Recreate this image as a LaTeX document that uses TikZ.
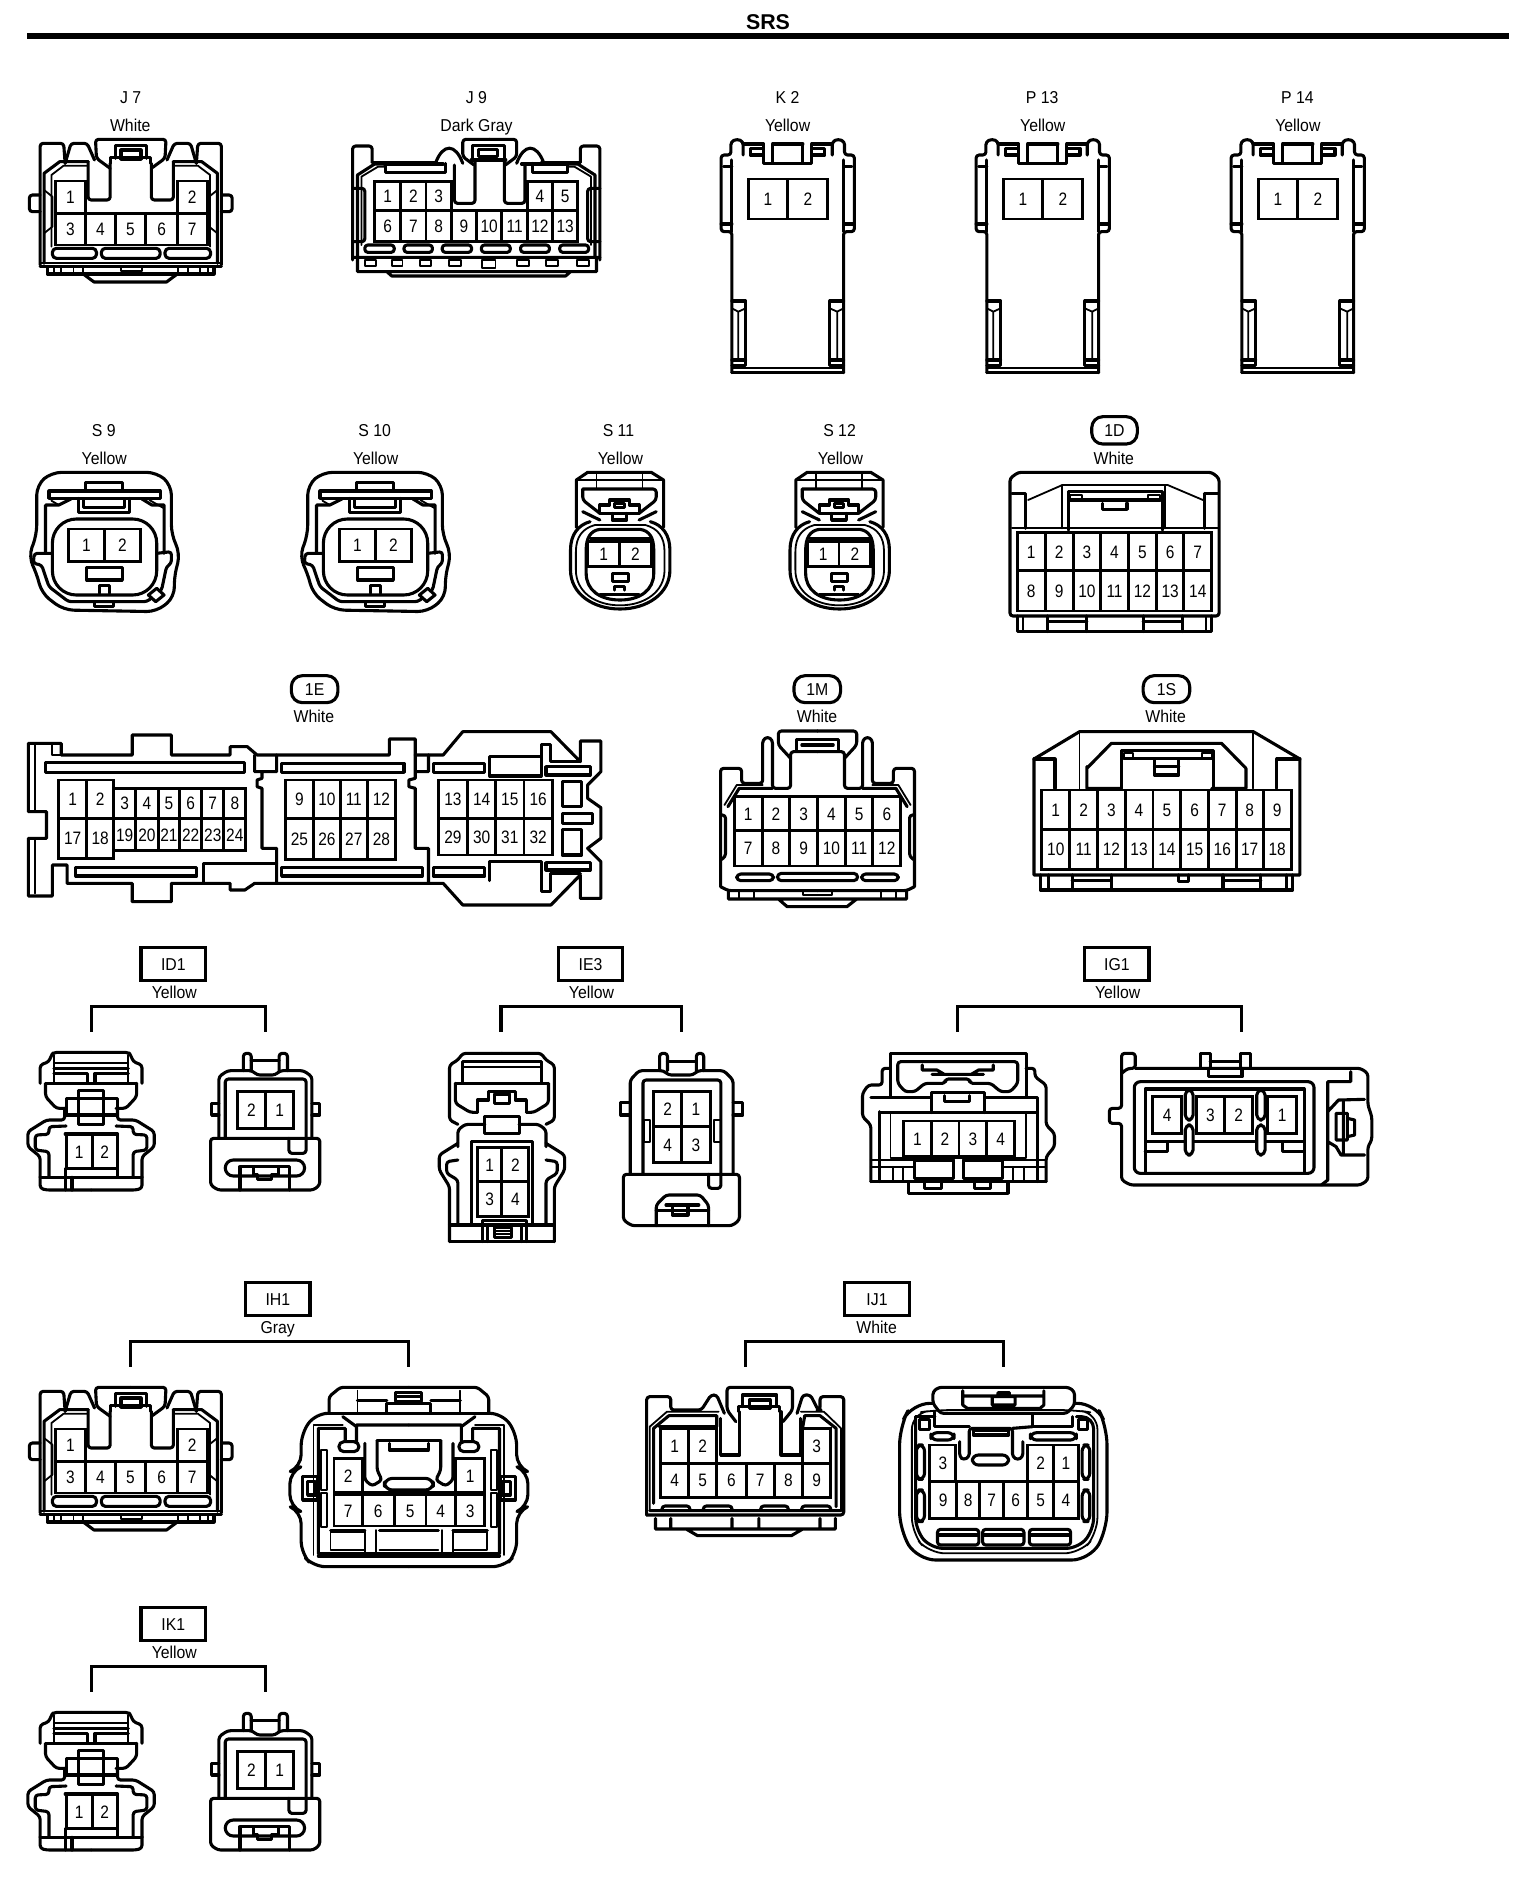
\documentclass[tikz,border=0pt]{standalone}
\usepackage{fontspec}
\setmainfont{Liberation Sans}
\newfontfamily\numf[FakeStretch=0.86]{Liberation Sans}
\newfontfamily\labf[FakeStretch=0.92]{Liberation Sans}
\newcounter{nn}
\tikzset{
 hv/.style={line width=1.55pt,line join=round,line cap=round},
 tn/.style={line width=0.9pt,line join=round,line cap=round},
 rc/.style={rounded corners=1.5pt},
 gridl/.style={line width=1.45pt,line join=miter},
 num/.style={inner sep=0pt,text height=6.5pt,text depth=0pt,font=\numf\fontsize{9}{10}\selectfont},
 lab/.style={inner sep=0pt,text height=6.2pt,text depth=0pt,font=\labf\fontsize{8.6}{10}\selectfont},
 ca/.style 2 args={shift={(#1,#2)},xscale=0.4897,yscale=0.33333},
 cb/.style 2 args={shift={(#1,#2)},xscale=0.38265,yscale=0.33333},
}
\newcommand{\pr}[3]{\foreach \pinA/\pinB/\pinT in {#3}{\stepcounter{nn}\draw[gridl] (\pinA,#1) rectangle (\pinB,#2);\node[num] (p\arabic{nn}) at ({(\pinA+\pinB)/2},{(#1+#2)/2}) {\pinT};}}
\newcommand{\lb}[3]{\stepcounter{nn}\node[lab] (t\arabic{nn}) at (#1,#2) {#3};}
\newcommand{\rr}[4]{\draw[hv,rounded corners=2pt] (#1,#2) rectangle (#3,#4);}
\newcommand{\both}[2]{#2\begin{scope}[shift={(#1,0)},xscale=-1]#2\end{scope}}
\newcommand{\pill}[5]{\stepcounter{nn}\draw[hv,rounded corners=5.5pt] (#1,#2) rectangle (#3,#4);\node[lab] (t\arabic{nn}) at ({(#1+#3)/2},{(#2+#4)/2}) {#5};}
\newcommand{\bx}[5]{\stepcounter{nn}\draw[hv,line join=miter] (#1,#2) rectangle (#3,#4);\node[lab] (t\arabic{nn}) at ({(#1+#3)/2},{(#2+#4)/2}) {#5};}
\newcommand{\brk}[4]{\stepcounter{nn}\coordinate (bl\arabic{nn}) at (#1,#3);\coordinate (br\arabic{nn}) at (#2,#3);\draw[hv,line cap=butt,line join=miter] (bl\arabic{nn}) -- ++(0,{#4-#3}) -| (br\arabic{nn});}
% ---------------- connectors
\newcommand{\Jseven}{%
\both{534}{\draw[hv,rc] (82,795)--(82,430)--(130,430)--(133,490);
\draw[hv,rc] (133,490)--(145,430)--(178,430)--(193,480);
\draw[hv,rc] (225,505)--(197,475)--(195,418)--(267,418);
\draw[hv,rc] (180,485)--(180,600)--(225,600)--(225,490);
\draw[hv] (90,790)--(90,520)--(122,485)--(180,485);
\draw[tn] (105,740)--(105,525)--(130,497)--(178,497);
\draw[hv,rc] (82,585)--(60,585)--(60,635)--(82,635);
\draw[tn] (90,570)--(107,590)--(107,680)--(90,700);
\draw[tn] (110,800)--(110,822) (125,800)--(125,822) (150,800)--(150,822) (170,800)--(170,822);}
\draw[hv] (235,475)--(235,437)--(300,437)--(300,475) (225,490)--(225,472)--(308,472)--(308,490);
\draw[hv] (247,450) rectangle (288,478);
\pr{543}{640}{113/175/1,362/423/2}
\pr{640}{735}{113/175/3,175/235/4,235/298/5,298/362/6,362/423/7}
\rr{107}{745}{197}{775}\rr{207}{745}{327}{775}\rr{337}{745}{430}{775}
\draw[tn] (82,788)--(452,788);
\draw[hv] (82,800)--(452,800) (97,800)--(97,822)--(437,822)--(437,800);
\draw[hv] (170,822)--(192,846)--(340,846)--(362,822);
\draw[tn] (247,800) rectangle (290,812);
}
\newcommand{\Jnine}{%
\both{1945}{\draw[hv,rc] (720,780)--(720,438)--(760,438)--(760,487);
\draw[hv,rc] (720,565)--(745,565)--(745,725)--(720,725);
\draw[hv] (730,770)--(730,525)--(765,492)--(785,492);
\draw[tn] (738,735)--(738,530)--(772,500)--(785,500);}
\draw[hv] (760,487)--(890,487) (1185,487)--(1105,487) (785,492)--(905,492) (1160,492)--(1065,492);
\both{2000}{\draw[hv] (890,487) .. controls (905,430) and (930,430) .. (945,490);
\draw[hv,rc] (968,495)--(945,470)--(945,418)--(1000,418);
\draw[hv,rc] (928,495)--(928,610)--(970,610)--(970,480);}
\draw[hv] (965,480)--(965,437)--(1030,437)--(1030,480) (978,448) rectangle (1015,470) (962,480)--(1033,480);
\draw[hv] (788,490)--(788,517)--(910,517)--(910,490) (1088,490)--(1088,517)--(1158,517)--(1158,490);
\pr{545}{632}{765/818/1,818/870/2,870/922/3,1077/1128/4,1128/1180/5}
\pr{632}{725}{765/818/6,818/870/7,870/922/8,922/973/9,973/1025/10,1025/1077/11,1077/1128/12,1128/1180/13}
\foreach \sa/\sb in {745/805,825/883,903/963,983/1042,1063/1122,1143/1202}{\draw[hv,rounded corners=1.5pt] (\sa,735) rectangle (\sb,757);}
\draw[hv] (720,772)--(1225,772) (730,775)--(730,815)--(1218,815)--(1218,775) (790,815)--(800,828)--(1155,828)--(1165,815);
\foreach \sa/\sb in {745/767,800/822,857/880,917/942,1055/1080,1115/1140,1178/1203}{\draw[tn] (\sa,780) rectangle (\sb,797);}
\draw[tn] (985,780) rectangle (1012,803);
}
\newcommand{\Phalf}{%
\draw[hv,rc] (447,1118)--(447,695)--(425,695)--(425,465)--(445,465)--(445,425)--(458,417)--(470,425)--(470,465);
\draw[hv] (470,432)--(512,432)--(512,490)--(561,490) (530,432)--(530,490) (530,432)--(561,432);
\draw[hv] (485,445) rectangle (512,465);
\draw[hv] (447,480)--(447,695) (430,500)--(447,500) (425,672)--(447,672);
\draw[hv] (447,903)--(475,903)--(475,1097)--(447,1097) (447,1080)--(475,1080);
\draw[tn] (460,935)--(460,1080) (447,925)--(460,935)--(475,925);
\draw[hv] (447,1118)--(561,1118);
\draw[tn] (447,1105)--(561,1105);
}
\newcommand{\Pconn}{%
\both{1122}{\Phalf}
\pr{537}{657}{480/561/1,561/643/2}
}
\newcommand{\Snine}{%
\draw[hv,rounded corners=5pt] (75,375)--(75,225)--(105,187)--(320,187)--(350,225)--(350,375)--(368,430)--(355,505)--(357,560)--(320,605)--(130,600)--(85,550)--(75,490)--(58,440)--cycle;
\draw[hv] (175,243)--(175,218)--(250,218)--(250,243) (100,243) rectangle (327,265);
\draw[hv] (160,265)--(160,307)--(265,307)--(265,265);
\draw[hv] (170,268)--(170,293)--(255,293)--(255,268);
\draw[hv] (93,430)--(93,285)--(120,285)--(145,267) (335,430)--(335,285)--(310,285)--(290,267);
\draw[tn] (105,272)--(120,285) (305,270)--(335,295);
\draw[hv,rc] (105,430)--(70,430)--(68,460)--(85,465)--(100,530)--(140,575)--(300,575)--(330,540)--(340,470)--(350,460)--(350,425)--(320,430);
\draw[hv,rounded corners=12pt] (107,327) rectangle (320,555);
\pr{357}{455}{140/213/1,213/287/2}
\draw[hv] (177,473) rectangle (250,510);
\draw[hv] (203,550)--(203,527)--(223,527)--(223,550) (193,575)--(193,590)--(232,590)--(232,575);
\draw[hv,fill=white] (320,535)--(335,555)--(318,575)--(303,555)--cycle;
}
\newcommand{\Seleven}{%
\draw[hv] (1205,335) .. controls (1180,345) and (1165,375) .. (1165,420) -- (1165,480) .. controls (1165,550) and (1210,597) .. (1266,597) .. controls (1322,597) and (1368,550) .. (1368,480) -- (1368,420) .. controls (1368,375) and (1353,345) .. (1328,335);
\draw[tn] (1215,345) .. controls (1190,355) and (1176,380) .. (1176,425) -- (1176,480) .. controls (1176,545) and (1215,586) .. (1266,586) .. controls (1317,586) and (1357,545) .. (1357,480) -- (1357,425) .. controls (1357,380) and (1343,355) .. (1318,345) -- cycle;
\draw[hv] (1225,358) .. controls (1205,362) and (1197,385) .. (1197,420) -- (1197,490) .. controls (1197,540) and (1225,570) .. (1266,570) .. controls (1307,570) and (1335,540) .. (1335,490) -- (1335,420) .. controls (1335,385) and (1327,362) .. (1307,358) -- cycle;
\draw[hv] (1177,352)--(1177,210)--(1200,187)--(1330,187)--(1355,210)--(1355,352);
\draw[tn] (1177,210)--(1355,210) (1218,190)--(1218,237) (1312,190)--(1312,237);
\draw[hv,rc] (1190,237)--(1340,237)--(1340,270)--(1305,310) (1190,237)--(1190,270)--(1225,310);
\draw[hv] (1190,305)--(1225,330) (1340,305)--(1305,330);
\draw[hv] (1225,310)--(1225,285)--(1245,285)--(1245,270)--(1285,270)--(1285,285)--(1305,285)--(1305,310)--cycle;
\draw[hv] (1255,280) rectangle (1275,292) (1250,310)--(1250,330)--(1280,330)--(1280,310);
\draw[hv] (1205,385)--(1330,385);
\pr{395}{470}{1200/1265/1,1265/1330/2}
\draw[hv] (1250,490) rectangle (1283,515) (1255,540)--(1255,530)--(1275,530)--(1275,540);
\draw[hv] (1225,553)--(1305,553);
}
\newcommand{\IDa}{%
\both{372}{\draw[hv,rc] (82,710)--(82,745)--(95,750)--(186,750);
\draw[hv,rc] (82,710)--(82,650)--(57,620)--(57,575)--(95,540)--(132,540)--(132,505);
\draw[hv,rc] (100,710)--(100,635)--(72,630)--(72,585)--(100,583)--(100,560)--(135,558);
\draw[hv,rc] (93,430)--(93,470)--(115,505)--(135,505);
\draw[hv] (93,430)--(186,430);
\draw[hv,rc] (82,430)--(82,375)--(100,365)--(105,345)--(110,337)--(186,337);
\draw[tn] (110,345)--(110,430) (110,370)--(186,370);
\draw[hv] (110,385)--(186,385) (110,400)--(178,400)--(178,430);}
\draw[hv] (160,452) rectangle (212,553) (135,475) rectangle (240,525);
\draw[hv] (133,582)--(240,582);
\pr{584}{685}{135/188/1,188/240/2}
\draw[hv] (133,685)--(133,710) (240,685)--(240,710);
\draw[hv] (82,712)--(290,712) (133,712)--(133,750) (147,750)--(147,712);
}
\newcommand{\IDb}{%
\draw[hv,rc] (430,595)--(653,595)--(653,735)--(640,750)--(445,750)--(430,735)--cycle;
\draw[hv,rc] (447,595)--(447,410)--(465,392)--(515,392)--(525,405)--(562,405)--(572,392)--(620,392)--(637,410)--(637,595);
\draw[hv,rc] (497,392)--(497,340)--(513,340)--(513,392) (570,392)--(570,340)--(587,340)--(587,392);
\draw[hv] (513,362)--(570,362);
\draw[hv,rc] (460,595)--(460,417)--(625,417)--(625,640)--(590,640)--(590,595);
\draw[hv] (447,490)--(432,490)--(432,525)--(447,525) (637,490)--(653,490)--(653,525)--(637,525);
\pr{455}{565}{485/542/2,542/600/1}
\draw[hv,rounded corners=4pt] (460,660) rectangle (622,708);
\draw[hv] (490,750)--(490,680)--(518,680)--(518,705)--(525,705)--(525,718)--(555,718)--(555,705)--(568,705)--(568,680)--(592,680)--(592,750) (518,680)--(568,680);
}
\begin{document}
\begin{tikzpicture}[x=0.5pt,y=-0.5pt]
\useasboundingbox (0,0) rectangle (1536,1880);
\fill[white] (0,0) rectangle (1536,1880);
\node[inner sep=0pt,font=\bfseries\fontsize{10.7}{12}\selectfont] (title) at (768,22) {SRS};
\coordinate (ruleL) at (27,36);\coordinate (ruleR) at (1509,36);
\draw[line width=2.7pt] (ruleL) -- (ruleR);
% ==== row 1
\begin{scope}[ca={0}{0}]
\lb{267}{291}{J 7}\lb{266}{375}{White}
\Jseven
\lb{973}{291}{J 9}\lb{973}{375}{Dark Gray}
\Jnine
\end{scope}
\begin{scope}[ca={768}{0}]
\lb{560}{291}{P 13}\lb{561}{375}{Yellow}
\lb{1081}{291}{P 14}\lb{1082}{375}{Yellow}
\lb{40}{291}{K 2}\lb{40}{375}{Yellow}
\Pconn
\end{scope}
\begin{scope}[ca={513}{0}]\Pconn\end{scope}
\begin{scope}[ca={1023}{0}]\Pconn\end{scope}
% ==== row 2 and 3, left
\begin{scope}[ca={0}{410}]
\lb{212}{62}{S 9}\lb{213}{145}{Yellow}
\lb{765}{62}{S 10}\lb{767}{145}{Yellow}
\lb{1263}{62}{S 11}\lb{1267}{145}{Yellow}
\Snine
\Seleven
\pill{595}{797}{690}{878}{1E}\lb{641}{920}{White}
% 1E
\draw[hv] (58,1000)--(125,1000)--(125,1035)--(270,1035)--(270,975)--(350,975)--(350,1035)--(470,1035)--(470,1010)--(505,1010)--(525,1035)--(795,1035)--(795,987)--(848,987)--(848,1035)--(905,1035)--(945,965)--(1125,965)--(1185,1055)--(1185,993)--(1227,993)--(1227,1085)--(1200,1125)--(1200,1165)--(1227,1193)--(1227,1285)--(1200,1315)--(1227,1355)--(1227,1465)--(1185,1465)--(1185,1395)--(1125,1485)--(945,1485)--(905,1420)--(520,1420)--(500,1440)--(470,1440)--(470,1420)--(350,1420)--(350,1475)--(270,1475)--(270,1420)--(137,1420)--(137,1365)--(107,1365)--(107,1458)--(58,1458)--(58,1285)--(95,1285)--(95,1205)--(58,1205)--cycle;
\draw[tn] (72,1005)--(72,1205) (72,1285)--(72,1450) (107,1005)--(107,1035)--(125,1035);
\draw[hv] (92,1058) rectangle (500,1087) (575,1060) rectangle (825,1087) (885,1060) rectangle (990,1087);
\draw[hv] (155,1372) rectangle (402,1398) (575,1372) rectangle (862,1398) (885,1372) rectangle (990,1398);
\draw[hv] (520,1035)--(520,1085)--(535,1085)--(535,1105)--(525,1110)--(525,1130)--(535,1135)--(535,1315)--(565,1315)--(565,1420) (565,1035)--(565,1085)--(535,1085);
\draw[hv] (848,1035)--(848,1085)--(848,1105)--(835,1110)--(835,1130)--(848,1135)--(848,1315)--(875,1315)--(875,1420) (875,1035)--(875,1085)--(848,1085);
\draw[hv] (415,1420)--(415,1360)--(565,1360);
\draw[hv] (1000,1040)--(1000,1098)--(1105,1098)--(1105,1003)--(1125,1003)--(1125,1055)--(1185,1055) (1000,1040)--(1105,1040);
\draw[hv] (1000,1412)--(1000,1355)--(1105,1355)--(1105,1445)--(1125,1445)--(1125,1390)--(1185,1390);
\draw[hv] (1115,1070) rectangle (1205,1095) (1115,1358) rectangle (1205,1380);
\draw[hv] (1148,1115) rectangle (1188,1190) (1148,1258) rectangle (1188,1335) (1148,1210) rectangle (1210,1240);
\pr{1110}{1225}{120/177/1,177/232/2}
\pr{1225}{1345}{120/177/17,177/232/18}
\pr{1135}{1225}{232/277/3,277/323/4,323/367/5,367/412/6,412/457/7,457/502/8}
\pr{1225}{1322}{232/277/19,277/323/20,323/367/21,367/412/22,412/457/23,457/502/24}
\pr{1110}{1225}{583/640/9,640/695/10,695/750/11,750/808/12}
\pr{1225}{1348}{583/640/25,640/695/26,695/750/27,750/808/28}
\pr{1110}{1225}{895/955/13,955/1012/14,1012/1070/15,1070/1128/16}
\pr{1225}{1335}{895/955/29,955/1012/30,1012/1070/31,1070/1128/32}
\end{scope}
% ==== crop 4
\begin{scope}[ca={700}{410}]
\lb{285}{62}{S 12}\lb{287}{145}{Yellow}
\pill{800}{20}{893}{102}{1D}\lb{845}{145}{White}
\pill{192}{797}{287}{878}{1M}\lb{239}{920}{White}
\pill{905}{797}{1000}{878}{1S}\lb{951}{920}{White}
% 1D
\draw[hv,rc] (633,618)--(633,205)--(650,187)--(1045,187)--(1060,205)--(1060,618)--cycle;
\draw[tn] (670,270)--(740,225)--(955,225)--(1027,270);
\draw[hv] (665,355)--(665,250)--(637,250) (1030,250)--(1058,250) (1030,250)--(1030,355);
\draw[tn] (740,225)--(740,355) (950,228)--(950,355);
\draw[hv] (752,360)--(752,245)--(945,245)--(945,360) (755,270)--(940,270) (822,280)--(822,298)--(872,298)--(872,280);
\draw[tn] (755,255) rectangle (780,270) (915,255) rectangle (940,270);
\draw[tn] (637,355)--(1058,355);
\pr{367}{482}{648/705/1,705/762/2,762/818/3,818/875/4,875/932/5,932/988/6,988/1045/7}
\pr{482}{603}{648/705/8,705/762/9,762/818/10,818/875/11,875/932/12,932/988/13,988/1045/14}
\draw[hv] (648,618)--(648,665)--(1045,665)--(1045,618) (710,618)--(710,665) (790,618)--(790,665) (905,618)--(905,665) (985,618)--(985,665) (710,635)--(790,635) (905,635)--(985,635);
\draw[tn] (660,620)--(660,665) (1033,620)--(1033,665);
% 1M
\both{480}{\draw[hv,rc] (42,1430)--(42,1075)--(85,1075)--(85,1120)--(128,1120)--(128,990)--(138,980)--(148,990)--(148,1135)--(185,1135)--(185,1025)--(240,1025);
\draw[hv,rc] (185,1045)--(160,1005)--(160,963)--(240,963);
\draw[tn] (50,1185)--(75,1125)--(128,1125);
\draw[hv] (57,1190)--(80,1135)--(148,1135);
\draw[hv,rc] (42,1215)--(52,1215)--(52,1340)--(42,1350);
\draw[hv,rc] (42,1430)--(58,1442)--(240,1442);
\draw[tn] (80,1442)--(80,1465) (110,1442)--(110,1465);}
\draw[hv] (197,1020)--(197,988)--(283,988)--(283,1020) (208,1005)--(272,1005);
\pr{1160}{1262}{70/127/1,127/183/2,183/240/3,240/297/4,297/353/5,353/410/6}
\pr{1262}{1368}{70/127/7,127/183/8,183/240/9,240/297/10,297/353/11,353/410/12}
\rr{75}{1392}{150}{1412}\rr{158}{1390}{322}{1412}\rr{330}{1392}{405}{1412}
\draw[hv] (58,1442)--(58,1467)--(422,1467)--(422,1442) (160,1467)--(178,1490)--(300,1490)--(320,1467);
\draw[tn] (210,1442) rectangle (270,1454);
% 1S
\draw[hv] (682,1395)--(682,1047)--(775,965)--(1130,965)--(1225,1047)--(1225,1395)--cycle;
\draw[tn] (775,965)--(775,1135) (1130,965)--(1130,1135);
\draw[hv] (790,1075)--(840,1000)--(1065,1000)--(1115,1075) (790,1070)--(790,1135)--(860,1135) (1115,1075)--(1115,1135)--(1045,1135);
\draw[hv] (860,1135)--(860,1022)--(1048,1022)--(1048,1135) (865,1045)--(1045,1045) (928,1050)--(928,1095)--(978,1095)--(978,1050) (928,1070)--(978,1070);
\draw[tn] (865,1030) rectangle (885,1045) (1025,1030) rectangle (1045,1045);
\draw[hv] (682,1047)--(725,1047)--(725,1135) (1178,1135)--(1178,1047)--(1225,1047);
\pr{1140}{1258}{698/755/1,755/812/2,812/868/3,868/925/4,925/982/5,982/1038/6,1038/1095/7,1095/1150/8,1150/1207/9}
\pr{1258}{1378}{698/755/10,755/812/11,812/868/12,868/925/13,925/982/14,982/1038/15,1038/1095/16,1095/1150/17,1150/1207/18}
\draw[hv] (695,1395)--(695,1440)--(1210,1440)--(1210,1395) (712,1395)--(712,1440) (760,1395)--(760,1440) (840,1395)--(840,1440) (1068,1395)--(1068,1440) (1145,1395)--(1145,1440) (1197,1395)--(1197,1440) (760,1412)--(840,1412) (1068,1412)--(1145,1412) (978,1395)--(978,1415)--(997,1415)--(997,1395);
\end{scope}
\begin{scope}[ca={219.5}{410}]\Seleven\end{scope}
\begin{scope}[ca={271}{410}]\Snine\end{scope}
% ==== crop 5
\begin{scope}[ca={0}{940}]
\bx{288}{22}{420}{122}{ID1}\lb{356}{157}{Yellow}
\brk{186}{542}{275}{200}
\IDa\IDb
\bx{1140}{22}{1272}{122}{IE3}\lb{1208}{157}{Yellow}
\brk{1023}{1392}{275}{200}
% IE3 left
\both{2050}{\draw[hv,rc] (1025,340)--(945,340)--(935,360)--(918,375)--(918,540)--(935,553);
\draw[hv,rc] (930,430)--(930,490)--(960,517)--(975,517);
\draw[hv] (930,430)--(1025,430) (945,365)--(1025,365) (945,365)--(945,430);
\draw[tn] (945,380)--(1025,380);
\draw[hv,rc] (935,620)--(935,570)--(950,553)--(990,553);
\draw[hv,rc] (918,905)--(918,740)--(897,690)--(897,645)--(935,610);
\draw[hv,rc] (935,855)--(935,720)--(912,700)--(912,665)--(935,660);
\draw[hv] (918,855)--(1025,855) (918,905)--(1025,905);}
\draw[hv] (975,517)--(975,480)--(998,480)--(998,455)--(1052,455)--(1052,480)--(1075,480)--(1075,517) (1010,462) rectangle (1040,490);
\draw[hv] (990,530) rectangle (1060,580);
\draw[hv] (963,855)--(963,605)--(1087,605)--(1087,855);
\pr{622}{725}{975/1025/1,1025/1080/2}
\pr{725}{830}{975/1025/3,1025/1080/4}
\draw[hv] (985,905)--(985,842)--(1075,842)--(1075,905) (995,905)--(995,855)--(1065,855)--(1065,905) (1010,862) rectangle (1045,892);
\draw[tn] (1010,872)--(1045,872) (1010,882)--(1045,882);
% IE3 right
\draw[hv,rc] (1273,703)--(1510,703)--(1510,840)--(1495,857)--(1290,857)--(1273,840)--cycle;
\draw[hv,rc] (1287,703)--(1287,420)--(1305,392)--(1355,392)--(1365,405)--(1415,405)--(1425,392)--(1478,392)--(1497,420)--(1497,703);
\draw[hv,rc] (1347,392)--(1347,340)--(1363,340)--(1363,392) (1422,392)--(1422,340)--(1437,340)--(1437,392);
\draw[hv] (1363,365)--(1422,365);
\draw[hv,rc] (1313,703)--(1313,420)--(1472,420)--(1472,745)--(1447,745)--(1447,703);
\draw[hv] (1287,487)--(1268,487)--(1268,525)--(1287,525) (1497,487)--(1517,487)--(1517,525)--(1497,525);
\draw[tn] (1315,540) rectangle (1327,605) (1458,540) rectangle (1472,605);
\pr{455}{560}{1335/1392/2,1392/1450/1}
\pr{560}{668}{1335/1392/4,1392/1450/3}
\draw[hv,rc] (1340,857)--(1340,795)--(1360,765)--(1430,765)--(1447,795)--(1447,857);
\draw[hv] (1340,812)--(1447,812) (1360,795)--(1427,795) (1373,795)--(1373,825)--(1405,825)--(1405,795);
\end{scope}
\begin{scope}[ca={0}{1600}]
\bx{288}{22}{420}{122}{IK1}\lb{356}{157}{Yellow}
\brk{186}{542}{275}{200}
\IDa\IDb
\end{scope}
% ==== IG1
\begin{scope}[ca={768}{940}]
\bx{647}{22}{778}{122}{IG1}\lb{714}{157}{Yellow}
\brk{387}{967}{275}{200}
\draw[hv] (250,470)--(250,340)--(527,340)--(527,470);
\draw[hv,rc] (265,365)--(510,365)--(510,430)--(495,455)--(475,455)--(455,430)--(412,430)--(412,417)--(362,417)--(362,430)--(320,430)--(300,455)--(280,455)--(265,430)--cycle;
\draw[hv] (315,375)--(315,390)--(345,390)--(360,403) (460,375)--(460,390)--(430,390)--(415,403) (335,403)--(440,403);
\draw[hv] (333,518)--(333,458)--(443,458)--(443,518) (360,467)--(360,485)--(412,485)--(412,467);
\draw[hv,rc] (250,385)--(233,385)--(233,435)--(205,435)--(193,460)--(193,530)--(210,555)--(210,725);
\draw[hv,rc] (527,385)--(545,385)--(545,410)--(568,435)--(568,555)--(585,580)--(585,620)--(568,650)--(568,725);
\draw[hv] (210,472)--(333,472) (443,472)--(550,472)--(550,725) (228,515)--(228,725);
\draw[hv] (228,518)--(550,518);
\draw[tn] (250,518)--(250,655)--(527,655)--(527,518);
\pr{543}{648}{277/333/1,333/390/2,390/447/3,447/503/4}
\draw[hv] (210,725)--(568,725);
\draw[tn] (210,660)--(300,660) (478,660)--(568,660);
\draw[hv] (300,660) rectangle (378,715) (400,660) rectangle (478,715);
\draw[tn] (255,680)--(255,725) (275,680)--(275,725) (500,680)--(500,725) (522,680)--(522,725) (210,680)--(300,680) (478,680)--(568,680);
\draw[hv] (287,725)--(287,760)--(490,760)--(490,725) (320,725)--(320,745)--(355,745)--(355,725) (422,725)--(422,745)--(455,745)--(455,725);
% right
\draw[hv,rc] (750,385)--(1210,385)--(1225,400)--(1225,495)--(1233,530)--(1233,600)--(1225,620)--(1225,720)--(1210,735)--(740,735)--(722,720)--(722,550)--(697,550)--(697,505)--(722,505)--(722,340)--(750,340)--(750,385)--(735,385)--(722,400);
\draw[hv] (883,385)--(883,340)--(903,340)--(903,385) (965,385)--(965,340)--(985,340)--(985,385) (903,365)--(965,365) (900,385)--(900,410)--(968,410)--(968,385);
\draw[hv,rounded corners=3pt] (748,425) rectangle (1115,700);
\draw[hv] (770,447) rectangle (1095,605) (770,605)--(770,697) (1095,605)--(1095,697) (815,605)--(815,635)--(770,635) (1050,605)--(1050,635)--(1095,635);
\pr{470}{580}{785/845/4,875/932/3,932/990/2,1020/1080/1}
\foreach \sa/\sb/\sc/\sd in {852/450/868/540,852/555/868/645,998/450/1015/540,998/555/1015/645}{\draw[hv,fill=white,rounded corners=2.5pt] (\sa,\sb) rectangle (\sc,\sd);}
\draw[hv] (1143,425)--(1190,425)--(1190,395) (1143,425)--(1143,515)--(1165,480)--(1218,478) (1143,605)--(1160,620)--(1170,645)--(1218,645) (1143,605)--(1143,720)--(1130,735) (1143,515)--(1143,605) (1175,480)--(1175,645);
\draw[hv] (1160,520) rectangle (1183,600) (1183,535)--(1198,540)--(1198,585)--(1183,590);
\end{scope}
% ==== IH1
\begin{scope}[ca={0}{1248}]\Jseven\end{scope}
\begin{scope}[ca={0}{1270}]
\bx{502}{38}{633}{137}{IH1}\lb{567}{172}{Gray}
\brk{267}{835}{290}{215}
\both{1670}{\draw[hv,rc] (672,430)--(672,380)--(695,352)--(835,352);
\draw[tn] (730,362)--(730,425);
\draw[hv] (730,392)--(790,392) (672,430)--(835,430);
\draw[hv,rounded corners=6pt] (835,890)--(640,890)--(615,850)--(615,725)--(592,710)--(592,605)--(615,590)--(615,490)--(645,430)--(672,430);
\draw[tn] (640,855)--(640,465)--(700,465);
\draw[hv] (650,850)--(650,475)--(705,475)--(705,512) (700,440)--(728,470)--(728,515) (728,465)--(835,465);
\draw[hv,rounded corners=2.5pt] (692,515) rectangle (733,545);
\draw[hv,rc] (745,520)--(745,630)--(760,648)--(780,630)--(770,600)--(770,512);
\draw[hv] (770,512)--(835,512) (795,520)--(795,540)--(835,540);
\draw[tn] (655,540) rectangle (668,660) (655,670) rectangle (668,770);
\draw[hv] (618,620) rectangle (648,690) (628,635) rectangle (645,675);
\draw[hv] (675,782)--(745,782) (775,782)--(835,782);
\draw[tn] (675,785) rectangle (745,840) (768,780)--(768,850) (745,780)--(745,850);
\draw[hv] (650,850)--(835,850) (650,858)--(835,858);
\draw[tn] (775,840)--(835,840);}
\draw[hv] (790,425)--(790,400)--(880,400)--(880,425) (807,368) rectangle (860,395) (810,380)--(860,380);
\draw[hv,rounded corners=4pt] (785,625) rectangle (885,660);
\pr{565}{668}{682/740/2,930/990/1}
\draw[hv] (740,668)--(930,668);
\pr{675}{768}{682/740/7,740/805/6,805/870/5,870/930/4,930/990/3}
\end{scope}
% ==== IJ1
\begin{scope}[cb={600}{1270}]
\bx{640}{38}{808}{137}{IJ1}\lb{723}{172}{White}
\brk{380}{1055}{290}{215}
\draw[hv,rc] (122,735)--(122,380)--(185,380)--(185,420)--(265,420)--(290,375)--(305,375)--(325,430);
\draw[hv,rc] (355,455)--(332,420)--(332,352)--(503,352)--(503,420)--(478,455);
\draw[hv,rc] (515,430)--(530,375)--(550,375)--(570,420)--(575,420)--(575,380)--(637,380)--(637,735)--(122,735);
\draw[hv] (372,410)--(372,375)--(462,375)--(462,410) (390,390) rectangle (445,415) (362,425)--(362,410)--(470,410)--(470,425);
\draw[hv] (365,425)--(365,555)--(315,555)--(315,445) (473,425)--(473,555)--(525,555)--(525,445);
\draw[tn] (130,720)--(130,470)--(175,425)--(310,425) (630,720)--(630,475)--(585,425)--(525,425);
\draw[hv] (140,700)--(140,475)--(180,437)--(305,437)--(305,470) (155,470)--(305,470);
\draw[hv] (617,710)--(617,475)--(575,437)--(535,437)--(530,470);
\pr{475}{580}{158/232/1,232/305/2,530/603/3}
\pr{580}{682}{158/232/4,232/305/5,305/382/6,382/455/7,455/530/8,530/603/9}
\draw[hv,rc] (162,720)--(162,708)--(235,708)--(235,720) (270,720)--(270,708)--(345,708)--(345,720) (420,720)--(420,708)--(492,708)--(492,720) (527,720)--(527,708)--(603,708)--(603,720);
\draw[hv] (145,745)--(145,777)--(615,777)--(615,745) (185,745)--(185,777) (345,745)--(345,777) (415,745)--(415,777) (575,745)--(575,777) (225,777)--(255,797)--(500,797)--(530,777) (130,722)--(630,722);
% right
\draw[hv,rounded corners=9pt] (783,600)--(783,470)--(815,400)--(1295,400)--(1325,470)--(1325,780)--(1280,870)--(830,870)--(783,780)--cycle;
\draw[hv,fill=white,rc] (870,400)--(870,365)--(885,352)--(1225,352)--(1240,365)--(1240,405)--(1220,430)--(890,430)--cycle;
\draw[hv] (948,362)--(948,405)--(960,415)--(1150,415)--(1160,405)--(1160,362) (950,378)--(1160,378) (1025,380) rectangle (1085,405) (1040,368) rectangle (1070,380);
\draw[tn,rounded corners=8pt] (815,430)--(815,790)--(860,850)--(1255,850)--(1300,790)--(1300,430)--(1240,420)--(880,420)--cycle;
\draw[hv,rounded corners=6pt] (825,440)--(825,780)--(865,835)--(1250,835)--(1290,780)--(1290,440)--(1245,440);
\draw[hv] (825,440)--(875,440) (875,425)--(875,470)--(965,470) (1130,435)--(1130,470)--(1235,470)--(1235,440);
\draw[hv] (835,448) rectangle (860,478) (1250,448) rectangle (1275,478);
\draw[hv] (1078,475)--(1130,470);
\draw[hv,rc] (940,515)--(940,560)--(950,570)--(965,560)--(965,475)--(1078,475)--(1078,560)--(1092,570)--(1105,560)--(1105,515);
\draw[hv] (975,480) rectangle (1068,495);
\draw[hv,rounded corners=3pt] (973,555) rectangle (1068,585) (865,488) rectangle (925,510) (1125,488) rectangle (1245,510) (827,525) rectangle (848,628) (827,660) rectangle (848,755) (1260,525) rectangle (1280,628) (1260,660) rectangle (1280,755);
\pr{525}{635}{862/930/3,1118/1185/2,1185/1250/1}
\draw[hv] (930,635)--(1118,635);
\pr{635}{745}{862/932/9,932/992/8,992/1055/7,1055/1118/6,1118/1185/5,1185/1250/4}
\draw[hv,rc] (882,825)--(882,778)--(990,778)--(990,825)--cycle (1000,825)--(1000,778)--(1108,778)--(1108,825)--cycle (1122,825)--(1122,778)--(1230,778)--(1230,825)--cycle;
\draw[hv] (885,795)--(988,795) (1003,795)--(1105,795) (1125,795)--(1228,795);
\end{scope}
\end{tikzpicture}
\end{document}
